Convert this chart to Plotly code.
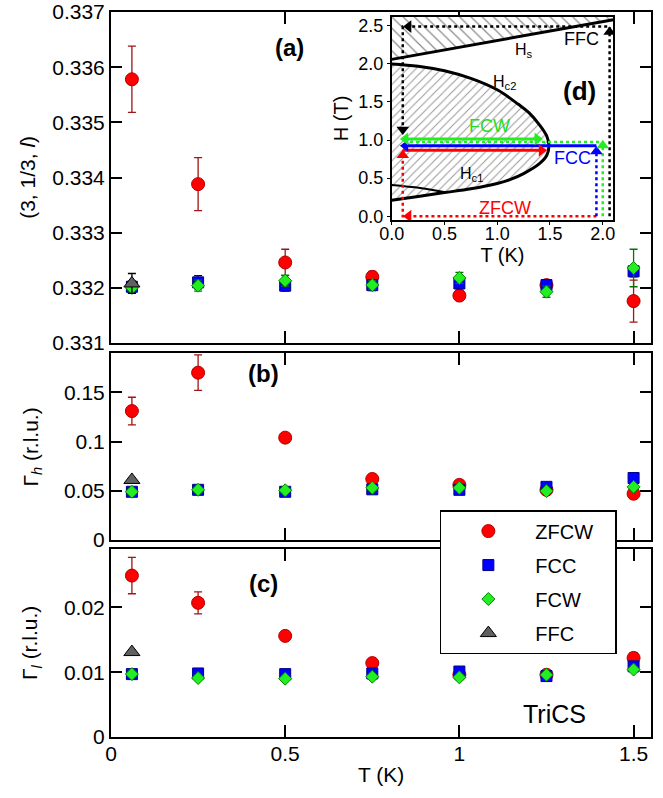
import plotly.graph_objects as go

# ---------------- data ----------------
T = [0.06, 0.25, 0.5, 0.75, 1.0, 1.25, 1.5]
T_ffc = [0.06]

# panel (a): (3, 1/3, l)
l_zfcw = [0.33578, 0.33388, 0.33246, 0.33220, 0.33186, 0.33205, 0.33176]
l_zfcw_err = [0.00060, 0.00048, 0.00024, 0.00010, 0.00008, 0.00008, 0.00038]
l_fcc = [0.33202, 0.33210, 0.33204, 0.33205, 0.33208, 0.33205, 0.33230]
l_fcc_err = [0.00010, 0.00012, 0.00010, 0.00010, 0.00010, 0.00010, 0.00010]
l_fcw = [0.33200, 0.33204, 0.33213, 0.33205, 0.33218, 0.33193, 0.33236]
l_fcw_err = [0.00010, 0.00010, 0.00010, 0.00008, 0.00010, 0.00010, 0.00034]
l_ffc = [0.33208]
l_ffc_err = [0.00018]

# panel (b): Gamma_h
gh_zfcw = [0.131, 0.170, 0.104, 0.062, 0.056, 0.051, 0.047]
gh_zfcw_err = [0.014, 0.018, 0.002, 0.002, 0.002, 0.002, 0.002]
gh_fcc = [0.049, 0.051, 0.049, 0.0515, 0.051, 0.054, 0.063]
gh_fcc_err = [0.002] * 7
gh_fcw = [0.049, 0.051, 0.0505, 0.053, 0.053, 0.0497, 0.054]
gh_fcw_err = [0.002] * 7
gh_ffc = [0.061]
gh_ffc_err = [0.002]

# panel (c): Gamma_l
gl_zfcw = [0.0249, 0.0207, 0.0156, 0.0114, 0.0096, 0.0096, 0.0122]
gl_zfcw_err = [0.0028, 0.0017, 0.0003, 0.0003, 0.0003, 0.0003, 0.0008]
gl_fcc = [0.0097, 0.0098, 0.0097, 0.0098, 0.0101, 0.0094, 0.0109]
gl_fcc_err = [0.0003] * 7
gl_fcw = [0.0097, 0.0091, 0.0090, 0.0093, 0.0092, 0.0096, 0.0104]
gl_fcw_err = [0.0003] * 7
gl_ffc = [0.0131]
gl_ffc_err = [0.0003]

# inset (d): phase diagram
hs_T = [0.0, 2.1]
hs_H = [2.06, 2.58]
hs_fill_T = [0.0, 2.1, 2.1, 0.0]
hs_fill_H = [2.06, 2.58, 2.62, 2.62]
dome_T = [0.0, 0.25, 0.5, 0.75, 1.0, 1.2, 1.3, 1.4, 1.47, 1.49, 1.47, 1.4, 1.25, 1.12, 1.0, 0.75, 0.5, 0.25, 0.0]
dome_H = [2.0, 1.97, 1.91, 1.81, 1.66, 1.47, 1.36, 1.2, 1.05, 0.93, 0.80, 0.69, 0.56, 0.48, 0.43, 0.36, 0.31, 0.26, 0.21]
inner_T = [0.0, 0.27, 0.52]
inner_H = [0.41, 0.37, 0.31]

ffc_path_T = [2.065, 2.065, 0.105, 0.105]
ffc_path_H = [0.0, 2.49, 2.49, 1.08]
zfcw_dot_T = [1.94, 0.105, 0.105]
zfcw_dot_H = [0.0, 0.0, 0.84]
zfcw_sol_T = [0.105, 1.44]
zfcw_sol_H = [0.865, 0.865]
fcc_dot_T = [1.94, 1.94]
fcc_dot_H = [0.0, 0.88]
fcc_sol_T = [1.94, 0.13]
fcc_sol_H = [0.925, 0.925]
fcw_dot_T = [2.0, 2.0, 0.12]
fcw_dot_H = [0.0, 0.975, 0.975]
fcw_sol_T = [0.13, 1.41]
fcw_sol_H = [1.015, 1.015]

# arrow heads (tip positions) in inset
arr_black = dict(T=[2.065, 0.16, 0.105], H=[2.42, 2.49, 1.14], sym=["triangle-up", "triangle-left", "triangle-down"])
arr_red = dict(T=[0.16, 0.105, 1.42], H=[0.0, 0.80, 0.865], sym=["triangle-left", "triangle-up", "triangle-right"])
arr_blue = dict(T=[1.94, 0.13], H=[0.85, 0.925], sym=["triangle-up", "triangle-left"])
arr_green = dict(T=[2.0, 0.13, 1.38], H=[0.93, 1.015, 1.015], sym=["triangle-up", "triangle-left", "triangle-right"])

FONT = "Liberation Sans, Arial, Helvetica, sans-serif"

styles = {
    "ZFCW": dict(symbol="circle", size=13, color="#ff0000", line="#b00000", err="#a01515"),
    "FCC": dict(symbol="square", size=11, color="#0000ff", line="#000088", err="#000090"),
    "FCW": dict(symbol="diamond", size=10, color="#22ee22", line="#008800", err="#007700"),
    "FFC": dict(symbol="triangle-up", size=14, color="#606060", line="#000000", err="#000000"),
}

panels = [
    ("x3", "y3", [(T, l_zfcw, l_zfcw_err, "ZFCW"), (T, l_fcc, l_fcc_err, "FCC"),
                  (T, l_fcw, l_fcw_err, "FCW"), (T_ffc, l_ffc, l_ffc_err, "FFC")]),
    ("x2", "y2", [(T, gh_zfcw, gh_zfcw_err, "ZFCW"), (T, gh_fcc, gh_fcc_err, "FCC"),
                  (T, gh_fcw, gh_fcw_err, "FCW"), (T_ffc, gh_ffc, gh_ffc_err, "FFC")]),
    ("x", "y", [(T, gl_zfcw, gl_zfcw_err, "ZFCW"), (T, gl_fcc, gl_fcc_err, "FCC"),
                (T, gl_fcw, gl_fcw_err, "FCW"), (T_ffc, gl_ffc, gl_ffc_err, "FFC")]),
]

fig = go.Figure()
for xa, ya, series in panels:
    for xs, ys, es, name in series:
        s = styles[name]
        fig.add_trace(go.Scatter(
            x=xs, y=ys, mode="markers", name=name + "\u00a0" * 3, xaxis=xa, yaxis=ya,
            legendgroup=name, showlegend=(xa == "x"),
            marker=dict(symbol=s["symbol"], size=s["size"], color=s["color"],
                        line=dict(color=s["line"], width=1)),
            error_y=dict(type="data", array=es, visible=True, color=s["err"],
                         thickness=1.3, width=4),
        ))

# inset traces
def inset_line(xs, ys, color, dash="solid", width=2.5, **kw):
    fig.add_trace(go.Scatter(x=xs, y=ys, mode="lines", xaxis="x4", yaxis="y4",
                             showlegend=False, hoverinfo="skip",
                             line=dict(color=color, dash=dash, width=width), **kw))

fig.add_trace(go.Scatter(x=hs_fill_T, y=hs_fill_H, fill="toself", mode="none",
                         xaxis="x4", yaxis="y4", showlegend=False, hoverinfo="skip",
                         fillcolor="rgba(255,255,255,0)",
                         fillpattern=dict(shape="\\", size=8, solidity=0.15,
                                          fgcolor="#111111", bgcolor="rgba(255,255,255,0)")))
fig.add_trace(go.Scatter(x=dome_T, y=dome_H, fill="toself", mode="none", line_shape="spline",
                         xaxis="x4", yaxis="y4", showlegend=False, hoverinfo="skip",
                         fillcolor="rgba(255,255,255,0)",
                         fillpattern=dict(shape="/", size=6, solidity=0.17,
                                          fgcolor="#333333", bgcolor="rgba(255,255,255,0)")))
inset_line(hs_T, hs_H, "black", width=3)
inset_line(dome_T, dome_H, "black", width=3, line_shape="spline")
inset_line(inner_T, inner_H, "black", width=2, line_shape="spline")

inset_line(ffc_path_T, ffc_path_H, "black", dash="dot", width=2.5)
inset_line(zfcw_dot_T, zfcw_dot_H, "#ff0000", dash="dot", width=2.5)
inset_line(fcc_dot_T, fcc_dot_H, "#0000ff", dash="dot", width=2.5)
inset_line(fcw_dot_T, fcw_dot_H, "#22ee22", dash="dot", width=2.5)
inset_line(zfcw_sol_T, zfcw_sol_H, "#ff0000", width=3)
inset_line(fcc_sol_T, fcc_sol_H, "#0000ff", width=3)
inset_line(fcw_sol_T, fcw_sol_H, "#22ee22", width=3)

for arr, col in [(arr_black, "black"), (arr_red, "#ff0000"), (arr_blue, "#0000ff"), (arr_green, "#22ee22")]:
    fig.add_trace(go.Scatter(x=arr["T"], y=arr["H"], mode="markers", xaxis="x4", yaxis="y4",
                             showlegend=False, hoverinfo="skip",
                             marker=dict(symbol=arr["sym"], size=11, color=col, line=dict(width=0))))

# ---------------- layout ----------------
axis_common = dict(showline=True, linecolor="black", linewidth=2, mirror="ticks",
                   ticks="inside", tickcolor="black", tickwidth=1.5, showgrid=False,
                   zeroline=False, automargin=False,
                   tickfont=dict(family=FONT, size=21, color="black"))

xcommon = dict(axis_common, range=[0, 1.55], tickvals=[0, 0.5, 1, 1.5],
               ticktext=["0", "0.5", "1", "1.5"], ticklen=12)

inset_common = dict(showline=True, linecolor="black", linewidth=1.5, mirror=True,
                    ticks="outside", ticklen=3, tickcolor="black", showgrid=False,
                    zeroline=False, automargin=False,
                    tickfont=dict(family=FONT, size=18, color="black"))

fig.update_layout(
    width=663, height=798,
    margin=dict(l=111, r=12, t=12, b=61, autoexpand=False),
    paper_bgcolor="white", plot_bgcolor="white",
    font=dict(family=FONT, color="black"),
    xaxis=dict(xcommon, domain=[0, 1], anchor="y", ticklabelstandoff=-3),
    xaxis2=dict(xcommon, domain=[0, 1], anchor="y2", matches="x", showticklabels=False),
    xaxis3=dict(xcommon, domain=[0, 1], anchor="y3", matches="x", showticklabels=False),
    yaxis=dict(axis_common, domain=[0, 0.2593], range=[0, 0.029], anchor="x",
               tickvals=[0, 0.01, 0.02], ticktext=["0", "0.01", "0.02"], ticklen=11),
    yaxis2=dict(axis_common, domain=[0.2717, 0.5297], range=[0, 0.19], anchor="x2",
                tickvals=[0, 0.05, 0.1, 0.15], ticktext=["0", "0.05", "0.1", "0.15"], ticklen=11),
    yaxis3=dict(axis_common, domain=[0.5434, 1.0], range=[0.331, 0.337], anchor="x3",
                tickvals=[0.331, 0.332, 0.333, 0.334, 0.335, 0.336, 0.337],
                ticktext=["0.331", "0.332", "0.333", "0.334", "0.335", "0.336", "0.337"], ticklen=11),
    xaxis4=dict(inset_common, domain=[0.5198, 0.9302], anchor="y4", range=[0, 2.1],
                tickvals=[0, 0.5, 1, 1.5, 2], ticktext=["0.0", "0.5", "1.0", "1.5", "2.0"],
                ticklabelstandoff=-6,
                title=dict(text="T (K)", font=dict(family=FONT, size=20), standoff=0)),
    yaxis4=dict(inset_common, domain=[0.7131, 0.9935], anchor="x4", range=[-0.05, 2.62],
                tickvals=[0, 0.5, 1, 1.5, 2, 2.5], ticktext=["0.0", "0.5", "1.0", "1.5", "2.0", "2.5"],
                title=dict(text="H (T)", font=dict(family=FONT, size=20), standoff=4)),
    legend=dict(x=0.609, y=0.313, xanchor="left", yanchor="top",
                bgcolor="white", bordercolor="black", borderwidth=1.5,
                font=dict(family=FONT, size=20, color="black"),
                tracegroupgap=5, itemwidth=84),
    showlegend=True,
)

ann = []
def label(text, x, y, size=21, xref="paper", yref="paper", color="black", angle=0):
    ann.append(dict(text=text, x=x, y=y, xref=xref, yref=yref, showarrow=False,
                    xanchor="center", yanchor="middle",
                    textangle=angle, font=dict(family=FONT, size=size, color=color)))

label("<b>(a)</b>", 0.331, 0.9517, size=24)
label("<b>(b)</b>", 0.2815, 0.5007, size=24)
label("<b>(c)</b>", 0.2815, 0.2124, size=24)
label("TriCS", 0.822, 0.0317, size=25)
label("(3, 1/3, <i>l</i>)", -0.155, 0.7717, size=21, angle=-90)
label("Γ<sub><i>h</i></sub> (r.l.u.)", -0.148, 0.3993, size=21, angle=-90)
label("Γ<sub><i>l</i></sub> (r.l.u.)", -0.148, 0.1297, size=21, angle=-90)
label("T (K)", 0.5, -0.0524, size=21)

label("<b>(d)</b>", 1.78, 1.64, size=26, xref="x4", yref="y4")
label("FCW", 0.93, 1.19, size=18, xref="x4", yref="y4", color="#22dd22")
label("FCC", 1.71, 0.77, size=18, xref="x4", yref="y4", color="#0000ff")
label("ZFCW", 1.07, 0.11, size=18, xref="x4", yref="y4", color="#ff0000")
label("FFC", 1.8, 2.33, size=18, xref="x4", yref="y4")
label("H<sub>s</sub>", 1.25, 2.17, size=16, xref="x4", yref="y4")
label("H<sub>c2</sub>", 1.07, 1.76, size=16, xref="x4", yref="y4")
label("H<sub>c1</sub>", 0.76, 0.55, size=16, xref="x4", yref="y4")

fig.update_layout(annotations=ann)
fig.write_html("out.html")
